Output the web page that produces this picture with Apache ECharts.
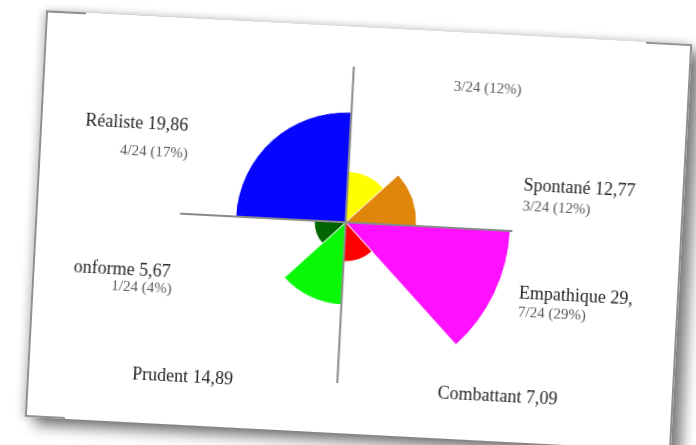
<!DOCTYPE html>
<html><head><meta charset="utf-8">
<script src="https://cdn.jsdelivr.net/npm/echarts@6/dist/echarts.min.js"></script>
<style>
html,body{margin:0;padding:0;background:#fff;width:696px;height:445px;overflow:hidden;}
#card{position:absolute;left:34.5px;top:26.5px;width:647px;height:407px;box-sizing:border-box;border:2px solid #8f8f8f;background:#fff;transform:rotate(3deg);transform-origin:50% 50%;box-shadow:10px 8px 14px rgba(0,0,0,0.5),-3px 0 8px rgba(0,0,0,0.2);}
#chart{position:absolute;left:38px;top:-2px;width:561px;height:407px;}
</style></head><body>
<div id="card"><div id="chart"></div></div>
<script>
// ---- data (clockwise from 12 o'clock) ----
const categories = ['', 'Spontané', 'Empathique', 'Combattant', 'Prudent', 'Conforme', 'Réaliste'];
const values = [9.2, 12.77, 29.7, 7.09, 14.89, 5.67, 19.86];
const counts = ['3/24 (12%)', '3/24 (12%)', '7/24 (29%)', '', '', '1/24 (4%)', '4/24 (17%)'];
const spans = [1, 1, 1, 1, 1, 1, 2];           // width in 45° slots
const colors = ['#ffff00', '#e0860a', '#ff10ff', '#ff0000', '#08f808', '#006400', '#0606ff'];

// ---- layout (chart pixel positions of the labels) ----
const CX = 270.3, CY = 196, R = 166.5;
const labelLayout = [
  {main: null, sub: [405, 55, 'center']},
  {main: [446, 150, 'left'], sub: [446, 171, 'left']},
  {main: [447, 258, 'left'], sub: [447, 277, 'left']},
  {main: [371, 362, 'left'], sub: null},
  {main: [166, 359, 'right'], sub: null},
  {main: [98, 255, 'right'], sub: [100, 272, 'right']},
  {main: [108, 108, 'right'], sub: [109, 136, 'right']}
];

const startAngles = [];
let acc = 0;
spans.forEach(s => { startAngles.push(acc); acc += s * 45; });

const fmt = v => v.toFixed(2).replace('.', ',');

const graphics = [];
// cross axis lines
graphics.push({type: 'line', z: 100, shape: {x1: CX - 166, y1: CY, x2: CX + 167, y2: CY}, style: {stroke: '#8a8a8a', lineWidth: 2}});
graphics.push({type: 'line', z: 100, shape: {x1: CX, y1: CY - 156, x2: CX, y2: CY + 161}, style: {stroke: '#8a8a8a', lineWidth: 2}});

categories.forEach((name, i) => {
  const L = labelLayout[i];
  if (L.main && name) {
    graphics.push({type: 'text', z: 100, x: L.main[0], y: L.main[1], style: {
      text: name + ' ' + fmt(values[i]), fill: '#262626', font: '18px "Liberation Serif"',
      align: L.main[2], verticalAlign: 'middle', textAlign: L.main[2], textVerticalAlign: 'middle'}});
  }
  if (L.sub && counts[i]) {
    graphics.push({type: 'text', z: 100, x: L.sub[0], y: L.sub[1], style: {
      text: counts[i], fill: '#5a5a5a', font: '15px "Liberation Serif"',
      align: L.sub[2], verticalAlign: 'middle', textAlign: L.sub[2], textVerticalAlign: 'middle'}});
  }
});

const chart = echarts.init(document.getElementById('chart'));
chart.setOption({
  animation: false,
  backgroundColor: '#fff',
  polar: {center: [CX, CY], radius: R},
  angleAxis: {type: 'value', min: 0, max: 360, startAngle: 90, clockwise: true, show: false},
  radiusAxis: {type: 'value', min: 0, max: 30, show: false},
  graphic: {elements: graphics},
  series: [{
    type: 'custom',
    coordinateSystem: 'polar',
    data: values.map((v, i) => [v, startAngles[i], startAngles[i] + spans[i] * 45, i]),
    encode: {radius: 0, angle: 1},
    renderItem: function (params, api) {
      const v = api.value(0), a0 = api.value(1), a1 = api.value(2);
      const c = api.coord([0, 0]);
      const p = api.coord([v, a0]);
      const r = Math.hypot(p[0] - c[0], p[1] - c[1]);
      return {
        type: 'sector',
        shape: {cx: c[0], cy: c[1], r0: 0, r: r,
          startAngle: (a0 - 90) * Math.PI / 180, endAngle: (a1 - 90) * Math.PI / 180, clockwise: true},
        style: {fill: colors[api.value(3)], stroke: '#fff', lineWidth: 1}
      };
    }
  }]
});
</script>
</body></html>
